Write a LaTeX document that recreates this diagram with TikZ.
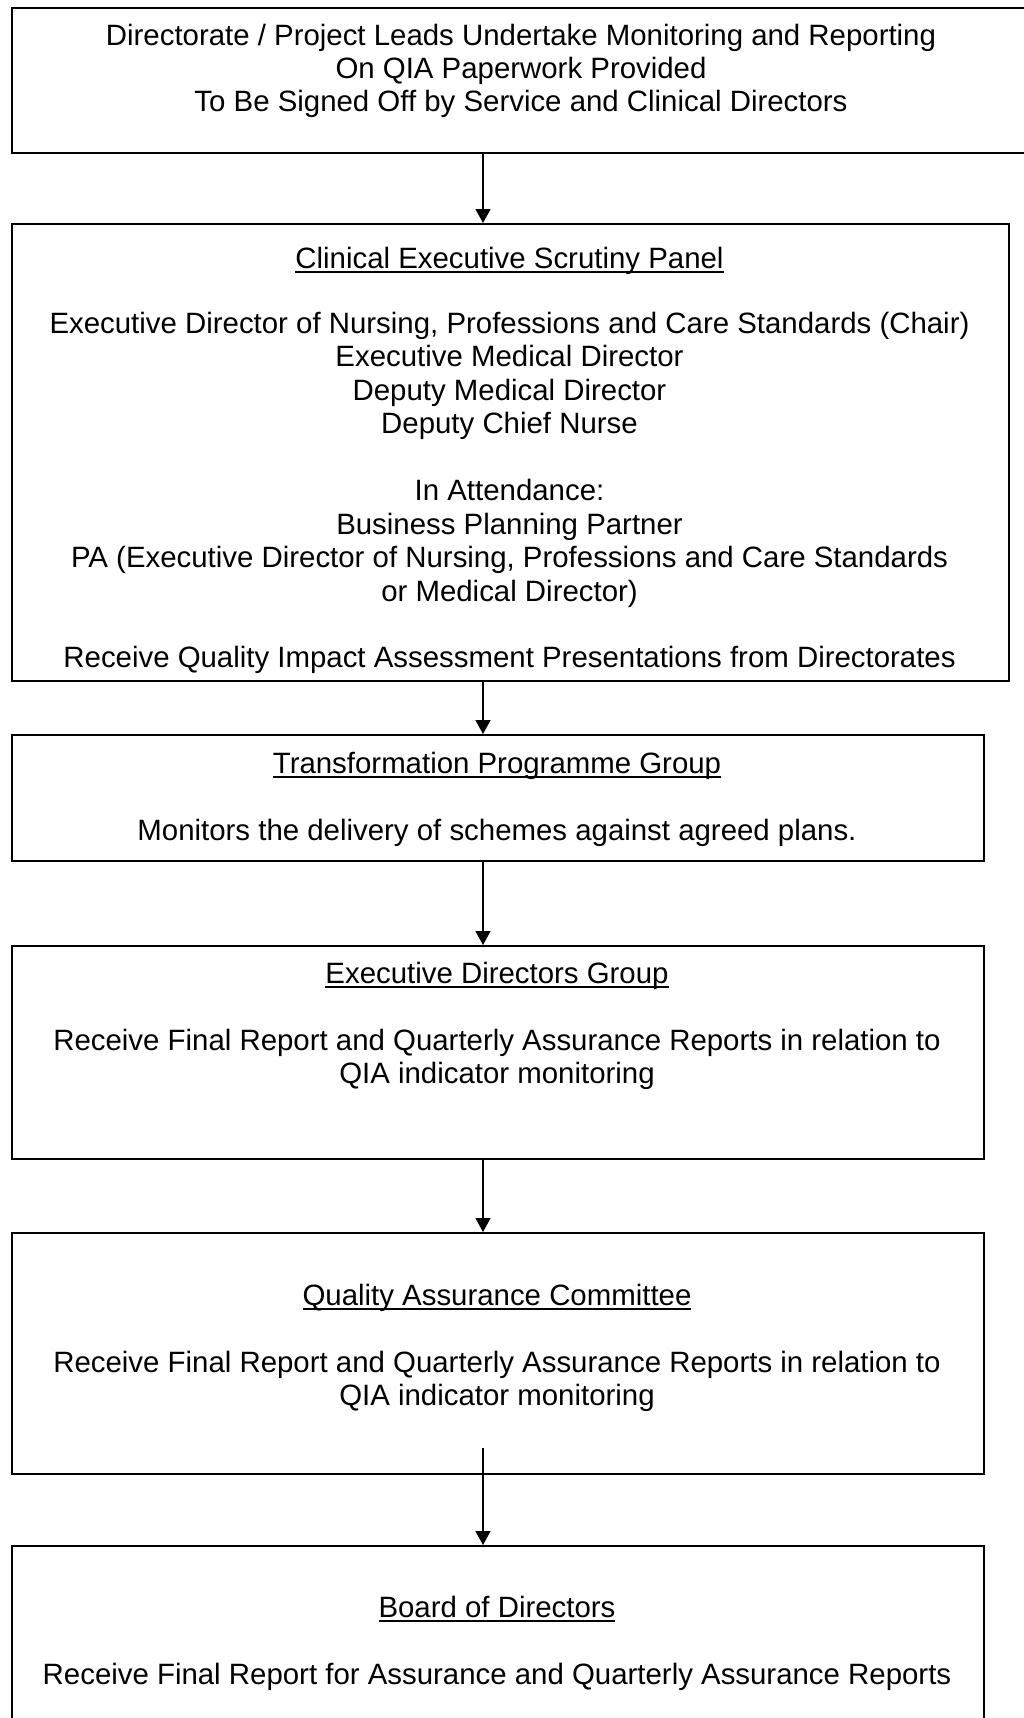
\documentclass[tikz,border=0pt]{standalone}
\usepackage{fontspec}
\setmainfont{Liberation Sans}
\usetikzlibrary{arrows.meta}
\newcommand\ulx[1]{\setbox0\hbox{#1}\rlap{\rule[-4.5pt]{\wd0}{1.8pt}}\box0}
\begin{document}
\begin{tikzpicture}[x=1pt,y=1pt,
  box/.style={draw, line width=1.6pt, rectangle, inner sep=0pt, anchor=north west},
  txt/.style={inner sep=0pt, anchor=base, font=\fontsize{29.4}{33.5}\selectfont},
  arr/.style={line width=1.3pt, -{Triangle[length=14pt,width=15pt]}}]
\path[use as bounding box, clip] (0,0) rectangle (1024,-1718);
% boxes
\node[box, minimum width=1019pt, minimum height=145pt] (b1) at (11,-7) {};
\node[box, minimum width=997pt, minimum height=457pt] (b2) at (11,-223) {};
\node[box, minimum width=972pt, minimum height=126pt] (b3) at (11,-734) {};
\node[box, minimum width=972pt, minimum height=213pt] (b4) at (11,-945) {};
\node[box, minimum width=972pt, minimum height=241pt] (b5) at (11,-1232) {};
\node[box, minimum width=972pt, minimum height=200pt] (b6) at (11,-1545) {};
% box 1 text
\node[txt] (t1a) at (521,-46) {Directorate / Project Leads Undertake Monitoring and Reporting};
\node[txt] (t1b) at (521,-79) {On QIA Paperwork Provided};
\node[txt] (t1c) at (521,-112) {To Be Signed Off by Service and Clinical Directors};
% box 2 text
\node[txt] (t2a) at (509.5,-268) {\ulx{Clinical Executive Scrutiny Panel}};
\node[txt] (t2b) at (509.5,-333) {Executive Director of Nursing, Professions and Care Standards (Chair)};
\node[txt] (t2c) at (509.5,-366.5) {Executive Medical Director};
\node[txt] (t2d) at (509.5,-400) {Deputy Medical Director};
\node[txt] (t2e) at (509.5,-433.5) {Deputy Chief Nurse};
\node[txt] (t2f) at (509.5,-500.5) {In Attendance:};
\node[txt] (t2g) at (509.5,-534) {Business Planning Partner};
\node[txt] (t2h) at (509.5,-567.5) {PA (Executive Director of Nursing, Professions and Care Standards};
\node[txt] (t2i) at (509.5,-601) {or Medical Director)};
\node[txt] (t2j) at (509.5,-667) {Receive Quality Impact Assessment Presentations from Directorates};
% box 3 text
\node[txt] (t3a) at (497,-773) {\ulx{Transformation Programme Group}};
\node[txt] (t3b) at (497,-840) {Monitors the delivery of schemes against agreed plans.};
% box 4 text
\node[txt] (t4a) at (497,-983) {\ulx{Executive Directors Group}};
\node[txt] (t4b) at (497,-1050) {Receive Final Report and Quarterly Assurance Reports in relation to};
\node[txt] (t4c) at (497,-1083.5) {QIA indicator monitoring};
% box 5 text
\node[txt] (t5a) at (497,-1305) {\ulx{Quality Assurance Committee}};
\node[txt] (t5b) at (497,-1372) {Receive Final Report and Quarterly Assurance Reports in relation to};
\node[txt] (t5c) at (497,-1405.5) {QIA indicator monitoring};
% box 6 text
\node[txt] (t6a) at (497,-1617) {\ulx{Board of Directors}};
\node[txt] (t6b) at (497,-1684) {Receive Final Report for Assurance and Quarterly Assurance Reports};
% arrows
\coordinate (ax) at (483,0);
\coordinate (a5s) at (483,-1448);
\draw[arr] (b1.south -| ax) -- (b2.north -| ax);
\draw[arr] (b2.south -| ax) -- (b3.north -| ax);
\draw[arr] (b3.south -| ax) -- (b4.north -| ax);
\draw[arr] (b4.south -| ax) -- (b5.north -| ax);
\draw[arr] (a5s) -- (b6.north -| ax);
\end{tikzpicture}
\end{document}
